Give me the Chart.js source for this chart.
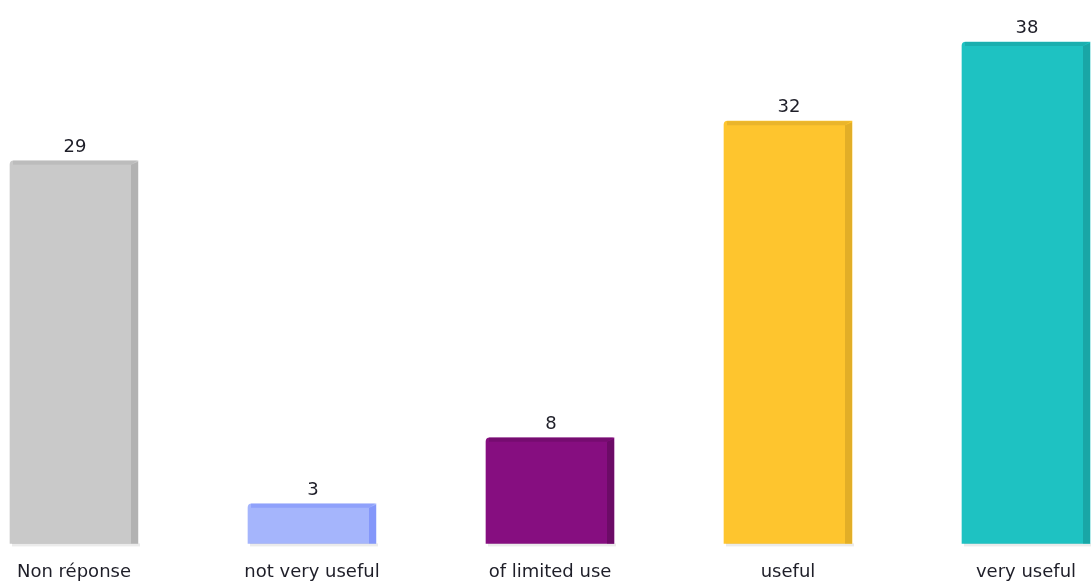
<!DOCTYPE html>
<html>
<head>
<meta charset="utf-8">
<script src="https://cdn.jsdelivr.net/npm/chart.js@4.4.0/dist/chart.umd.min.js"></script>
<style>
  html, body { margin: 0; padding: 0; background: #fff; }
  #wrap { width: 1091px; height: 583px; }
</style>
</head>
<body>
<div id="wrap"><canvas id="chart" width="1091" height="583"></canvas></div>
<script>
const categories = ['Non réponse', 'not very useful', 'of limited use', 'useful', 'very useful'];
const counts = [29, 3, 8, 32, 38];
const frontColors = ['#c9c9c9', '#a5b5fc', '#860e80', '#fec52e', '#1ec2c2'];
const sideColors = ['#b2b2b2', '#8497fa', '#6c0b67', '#e2ae27', '#19a6a6'];
const topColors = ['#bcbcbc', '#8fa1fb', '#760c70', '#eab52b', '#1aafaf'];

// fake 3d look: darker right face, top strip, soft shadow under the bar
const bar3d = {
  id: 'bar3d',
  afterDatasetsDraw(chart) {
    const ctx = chart.ctx;
    const meta = chart.getDatasetMeta(0);
    ctx.save();
    meta.data.forEach((bar, i) => {
      const { x, y, base, width } = bar.getProps(['x', 'y', 'base', 'width'], true);
      const left = x - width / 2;
      const right = x + width / 2;
      const depth = 7;
      // shadow
      ctx.fillStyle = 'rgba(0,0,0,0.08)';
      ctx.fillRect(left + 2, base, width, 3);
      // top strip
      ctx.fillStyle = topColors[i];
      ctx.beginPath();
      ctx.moveTo(left + 3, y);
      ctx.lineTo(right - 1, y);
      ctx.lineTo(right - depth, y + 4);
      ctx.lineTo(left + 3, y + 4);
      ctx.closePath();
      ctx.fill();
      // right side face
      ctx.fillStyle = sideColors[i];
      ctx.beginPath();
      ctx.moveTo(right - depth, y + 4);
      ctx.lineTo(right, y + 1);
      ctx.lineTo(right, base);
      ctx.lineTo(right - depth, base);
      ctx.closePath();
      ctx.fill();
      // value
      ctx.fillStyle = '#1e1e28';
      ctx.font = '18px "DejaVu Sans", Verdana, sans-serif';
      ctx.textAlign = 'center';
      ctx.textBaseline = 'alphabetic';
      ctx.fillText(String(counts[i]), x + 1, y - 9);
    });
    ctx.restore();
  }
};

new Chart(document.getElementById('chart'), {
  type: 'bar',
  data: {
    labels: categories,
    datasets: [{
      data: counts,
      backgroundColor: frontColors,
      borderWidth: 0,
      borderRadius: { topLeft: 4, topRight: 0, bottomLeft: 0, bottomRight: 0 },
      borderSkipped: 'bottom',
      barThickness: 128,
      clip: false
    }]
  },
  options: {
    responsive: false,
    animation: false,
    layout: { padding: { top: 42, left: 74, right: 65, bottom: -18 } },
    plugins: { legend: { display: false }, tooltip: { enabled: false } },
    scales: {
      x: {
        offset: false,
        grid: { display: false, drawTicks: false },
        border: { display: false },
        ticks: {
          color: '#1e1e28',
          padding: 18,
          font: { family: '"DejaVu Sans", Verdana, sans-serif', size: 18 }
        },
        // let layout padding alone decide the chart area width
        afterFit(scale) {
          scale.paddingLeft = 0;
          scale.paddingRight = 0;
        }
      },
      y: {
        display: false,
        min: 0,
        max: 38
      }
    }
  },
  plugins: [bar3d]
});
</script>
</body>
</html>
